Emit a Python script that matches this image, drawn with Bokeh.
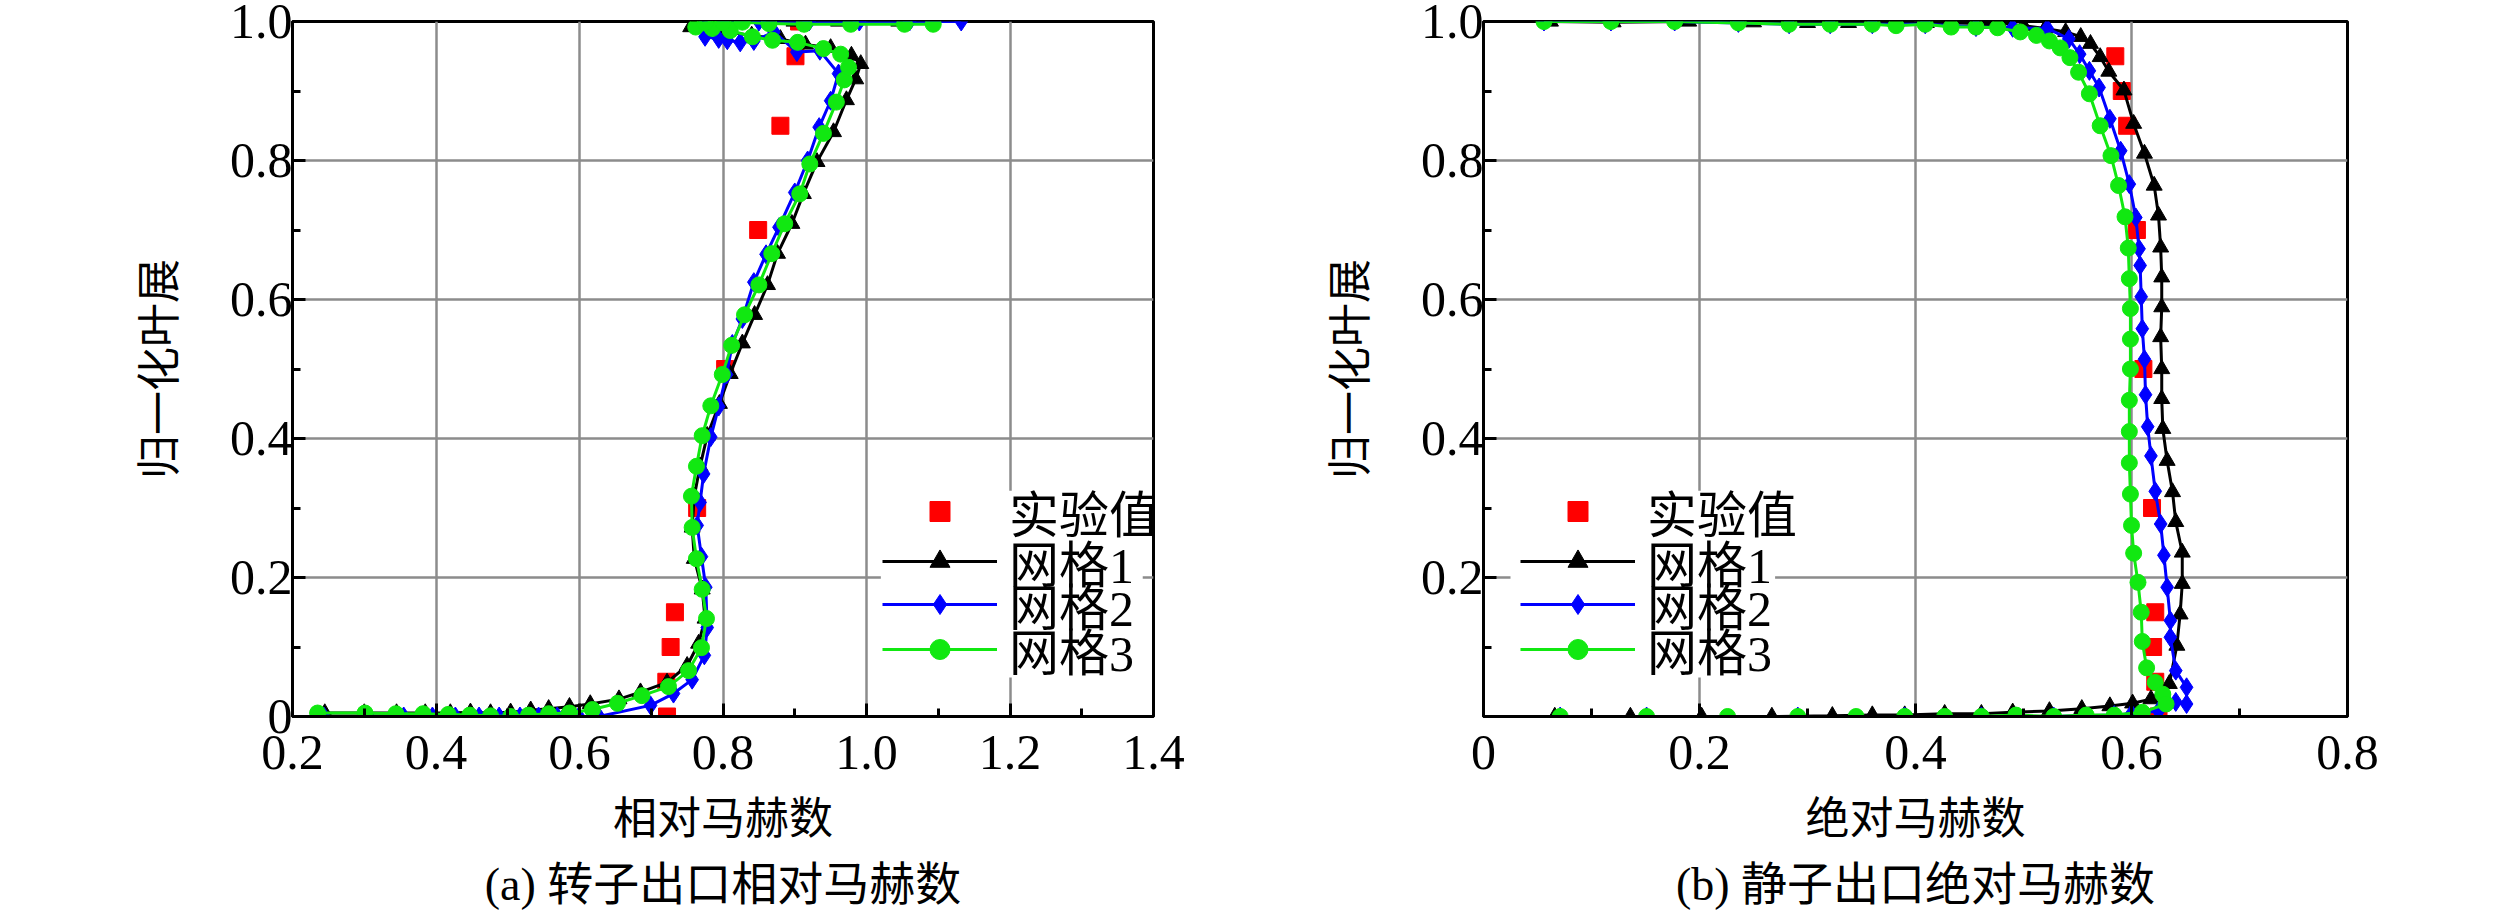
from bokeh.plotting import figure
from bokeh.models import Range1d, FixedTicker, Legend, LegendItem, Title, BoxAnnotation
from bokeh.layouts import row
from bokeh.embed import file_html
from bokeh.resources import INLINE

# ---- (a) rotor outlet relative Mach number ----
a_exp_x = [0.722, 0.721, 0.727, 0.733, 0.764, 0.803, 0.849, 0.880, 0.901, 0.906]
a_exp_y = [0.0, 0.05, 0.10, 0.15, 0.30, 0.50, 0.70, 0.85, 0.95, 1.0]

a_g1_x = [0.245, 0.300, 0.345, 0.385, 0.420, 0.448, 0.476, 0.504, 0.532, 0.557, 0.586, 0.615,
          0.655, 0.685, 0.722, 0.750, 0.766, 0.775, 0.771, 0.760, 0.757, 0.760, 0.768, 0.778,
          0.795, 0.810, 0.827, 0.844, 0.862, 0.876, 0.896, 0.912, 0.931, 0.954, 0.972, 0.985,
          0.992, 0.979, 0.950, 0.915, 0.880, 0.840, 0.800, 0.755, 0.806, 0.899, 0.961, 1.045]
a_g1_y = [0.005, 0.005, 0.005, 0.005, 0.005, 0.006, 0.005, 0.006, 0.009, 0.011, 0.014, 0.018,
          0.025, 0.035, 0.049, 0.073, 0.105, 0.141, 0.183, 0.227, 0.272, 0.317, 0.360, 0.404,
          0.450, 0.493, 0.537, 0.578, 0.621, 0.666, 0.709, 0.752, 0.798, 0.841, 0.887, 0.917,
          0.939, 0.951, 0.962, 0.967, 0.975, 0.980, 0.986, 0.992, 1.0, 1.0, 1.0, 1.0]

a_g2_x = [0.244, 0.306, 0.355, 0.395, 0.427, 0.460, 0.488, 0.517, 0.543, 0.569, 0.599, 0.627,
          0.699, 0.731, 0.757, 0.774, 0.778, 0.776, 0.770, 0.764, 0.768, 0.773, 0.783, 0.794,
          0.805, 0.813, 0.827, 0.843, 0.860, 0.878, 0.900, 0.918, 0.934, 0.950, 0.961, 0.935,
          0.903, 0.871, 0.843, 0.824, 0.806, 0.794, 0.775, 0.775, 0.800, 0.850, 0.920, 0.990,
          1.060, 1.132]
a_g2_y = [0.0, 0.0, 0.0, 0.0, 0.0, 0.0, 0.0, 0.0, 0.0, 0.0, 0.0, 0.0,
          0.016, 0.033, 0.053, 0.088, 0.128, 0.186, 0.230, 0.275, 0.308, 0.349, 0.402, 0.446,
          0.492, 0.536, 0.572, 0.625, 0.665, 0.704, 0.754, 0.800, 0.848, 0.886, 0.925, 0.958,
          0.956, 0.985, 0.972, 0.970, 0.973, 0.975, 0.978, 0.998, 0.998, 1.0, 1.0, 1.0,
          1.0, 1.0]

a_g3_x = [0.235, 0.301, 0.344, 0.382, 0.417, 0.447, 0.476, 0.504, 0.529, 0.557, 0.586, 0.618,
          0.653, 0.687, 0.724, 0.752, 0.770, 0.777, 0.771, 0.763, 0.757, 0.756, 0.763, 0.771,
          0.783, 0.799, 0.812, 0.830, 0.850, 0.868, 0.886, 0.907, 0.921, 0.940, 0.958, 0.969,
          0.975, 0.964, 0.940, 0.904, 0.869, 0.841, 0.810, 0.785, 0.762, 0.775, 0.800, 0.827,
          0.864, 0.913, 0.978, 1.053, 1.093]
a_g3_y = [0.005, 0.005, 0.004, 0.004, 0.003, 0.002, 0.001, 0.0, 0.002, 0.004, 0.005, 0.010,
          0.019, 0.030, 0.043, 0.066, 0.099, 0.141, 0.183, 0.227, 0.272, 0.317, 0.360, 0.404,
          0.447, 0.492, 0.534, 0.578, 0.621, 0.666, 0.709, 0.752, 0.795, 0.839, 0.884, 0.916,
          0.934, 0.953, 0.961, 0.970, 0.973, 0.978, 0.987, 0.990, 0.992, 0.998, 0.999, 0.999,
          0.997, 0.996, 0.996, 0.996, 0.996]

# ---- (b) stator outlet absolute Mach number ----
b_exp_x = [0.585, 0.591, 0.596, 0.605, 0.611, 0.619, 0.622, 0.620, 0.622, 0.625]
b_exp_y = [0.95, 0.90, 0.85, 0.70, 0.50, 0.30, 0.15, 0.10, 0.05, 0.0]

b_g1_x = [0.062, 0.120, 0.190, 0.250, 0.300, 0.338, 0.382, 0.410, 0.434, 0.464, 0.477, 0.500,
          0.520, 0.539, 0.553, 0.562, 0.571, 0.579, 0.593, 0.602, 0.612, 0.621, 0.625, 0.627,
          0.628, 0.628, 0.627, 0.628, 0.628, 0.629, 0.633, 0.638, 0.641, 0.647, 0.647, 0.645,
          0.642, 0.635, 0.618, 0.601, 0.580, 0.554, 0.524, 0.490, 0.461, 0.427, 0.390, 0.360,
          0.323, 0.267, 0.202, 0.136, 0.066]
b_g1_y = [1.0, 0.999, 1.0, 0.999, 0.998, 0.998, 0.999, 0.998, 0.998, 0.997, 0.998, 0.994,
          0.990, 0.985, 0.978, 0.968, 0.949, 0.928, 0.901, 0.853, 0.810, 0.764, 0.721, 0.675,
          0.632, 0.589, 0.546, 0.500, 0.457, 0.414, 0.368, 0.323, 0.280, 0.236, 0.191, 0.147,
          0.102, 0.047, 0.025, 0.019, 0.015, 0.011, 0.008, 0.006, 0.004, 0.004, 0.002, 0.002,
          0.001, 0.0, 0.0, 0.0, 0.0]

b_g2_x = [0.056, 0.118, 0.177, 0.236, 0.283, 0.321, 0.360, 0.409, 0.456, 0.490, 0.522, 0.542,
          0.552, 0.561, 0.570, 0.580, 0.590, 0.598, 0.604, 0.607, 0.608, 0.609, 0.610, 0.612,
          0.613, 0.615, 0.618, 0.622, 0.627, 0.630, 0.633, 0.636, 0.636, 0.641, 0.651, 0.651,
          0.641, 0.625, 0.600, 0.584, 0.528, 0.461, 0.390, 0.291, 0.151, 0.071]
b_g2_y = [1.0, 1.0, 1.0, 0.998, 0.996, 0.996, 0.996, 0.996, 0.992, 0.991, 0.990, 0.975,
          0.953, 0.929, 0.905, 0.860, 0.814, 0.766, 0.718, 0.673, 0.649, 0.604, 0.558, 0.514,
          0.463, 0.417, 0.375, 0.324, 0.277, 0.232, 0.186, 0.138, 0.114, 0.066, 0.042, 0.018,
          0.021, 0.008, 0.004, 0.002, 0.0, 0.0, 0.0, 0.0, 0.0, 0.0]

b_g3_x = [0.056, 0.118, 0.177, 0.236, 0.283, 0.321, 0.360, 0.382, 0.409, 0.433, 0.456, 0.476,
          0.497, 0.512, 0.524, 0.534, 0.543, 0.551, 0.561, 0.571, 0.581, 0.588, 0.594, 0.597,
          0.598, 0.599, 0.599, 0.599, 0.598, 0.598, 0.598, 0.599, 0.600, 0.602, 0.606, 0.609,
          0.610, 0.614, 0.622, 0.629, 0.632, 0.610, 0.584, 0.558, 0.528, 0.493, 0.461, 0.427,
          0.390, 0.345, 0.291, 0.226, 0.151, 0.071]
b_g3_y = [1.0, 1.0, 1.0, 0.998, 0.996, 0.996, 0.996, 0.994, 0.996, 0.992, 0.992, 0.991,
          0.985, 0.980, 0.972, 0.962, 0.948, 0.927, 0.896, 0.850, 0.807, 0.764, 0.719, 0.674,
          0.630, 0.587, 0.543, 0.500, 0.455, 0.410, 0.365, 0.320, 0.275, 0.235, 0.193, 0.150,
          0.108, 0.070, 0.049, 0.032, 0.018, 0.006, 0.002, 0.002, 0.0, 0.002, 0.0, 0.0,
          0.0, 0.0, 0.0, 0.0, 0.0, 0.0]

a_xticks = [0.2, 0.4, 0.6, 0.8, 1.0, 1.2, 1.4]
a_xlabels = ["0.2", "0.4", "0.6", "0.8", "1.0", "1.2", "1.4"]
b_xticks = [0.0, 0.2, 0.4, 0.6, 0.8]
b_xlabels = ["0", "0.2", "0.4", "0.6", "0.8"]
yticks = [0.0, 0.2, 0.4, 0.6, 0.8, 1.0]
a_ylabels = ["0", "0.2", "0.4", "0.6", "0.8", "1.0"]
b_ylabels = ["", "0.2", "0.4", "0.6", "0.8", "1.0"]
legend_labels = ["实验值", "网格1", "网格2", "网格3"]

FONT = "Liberation Serif, Noto Sans CJK SC"
GREEN = "#11e811"
LEGEND_ROWS = [163, 113, 70, 25]   # px above the frame bottom, one legend per entry


def panel(xr, xticks, xlabels, ylabels, xtitle, caption, width, bl, br, data, legend_x, legend_box):
    p = figure(width=width, height=922, x_range=Range1d(*xr), y_range=Range1d(0, 1),
               output_backend="svg", toolbar_location=None,
               min_border_left=bl, min_border_right=br, min_border_top=21, min_border_bottom=206)
    p.outline_line_color = "black"
    p.outline_line_width = 3

    step = xticks[1] - xticks[0]
    xminor = [round(t + step / 2, 3) for t in xticks[:-1]]
    p.xaxis.ticker = FixedTicker(ticks=xticks, minor_ticks=xminor)
    p.yaxis.ticker = FixedTicker(ticks=yticks, minor_ticks=[0.1, 0.3, 0.5, 0.7, 0.9])
    p.xgrid.ticker = FixedTicker(ticks=xticks)
    p.ygrid.ticker = FixedTicker(ticks=yticks)
    p.xaxis.major_label_overrides = dict(zip(xticks, xlabels))
    p.yaxis.major_label_overrides = dict(zip(yticks, ylabels))
    for ax in (p.xaxis[0], p.yaxis[0]):
        ax.axis_line_width = 3
        ax.major_tick_in = 13
        ax.major_tick_out = 0
        ax.minor_tick_in = 8
        ax.minor_tick_out = 0
        ax.major_tick_line_width = 3
        ax.minor_tick_line_width = 3
        ax.major_label_text_font = FONT
        ax.major_label_text_font_size = "50px"
        ax.major_label_text_color = "black"
        ax.axis_label_text_font = FONT
        ax.axis_label_text_font_size = "44px"
        ax.axis_label_text_font_style = "normal"
        ax.axis_label_text_color = "black"
    p.xaxis.major_label_standoff = 19
    p.yaxis.major_label_standoff = 0
    p.xaxis.axis_label = xtitle
    p.xaxis.axis_label_standoff = 23
    p.yaxis.axis_label = "归一化叶展"
    p.yaxis.axis_label_standoff = 42
    for g in (p.xgrid[0], p.ygrid[0]):
        g.grid_line_color = "#8c8c8c"
        g.grid_line_width = 2.5

    # white patch behind the legend, as in the original figure
    bx0, bx1, by0, by1 = legend_box
    p.add_layout(BoxAnnotation(left=bx0, right=bx1, bottom=by0, top=by1, fill_color="white",
                               fill_alpha=1, line_color=None, level="underlay"))

    ex, ey, x1, y1, x2, y2, x3, y3 = data
    r0 = p.scatter(ex, ey, marker="square", size=17, color="#ff0000")
    l1 = p.line(x1, y1, line_color="black", line_width=3)
    s1 = p.scatter(x1, y1, marker="triangle", size=16, color="black")
    l2 = p.line(x2, y2, line_color="#0000ff", line_width=3)
    s2 = p.scatter(x2, y2, marker="diamond", size=19, color="#0000ff")
    l3 = p.line(x3, y3, line_color=GREEN, line_width=3)
    s3 = p.scatter(x3, y3, marker="circle", size=16, color=GREEN)

    groups = [[r0], [l1, s1], [l2, s2], [l3, s3]]
    for label, rs, ypos in zip(legend_labels, groups, LEGEND_ROWS):
        lg = Legend(items=[LegendItem(label=label, renderers=rs)], location=(legend_x, ypos))
        lg.label_text_font = FONT
        lg.label_text_font_size = "50px"
        lg.label_text_color = "black"
        lg.label_text_baseline = "alphabetic"
        lg.label_height = 84
        lg.glyph_width = 115
        lg.glyph_height = 50
        lg.label_standoff = 12
        lg.padding = 0
        lg.margin = 0
        lg.border_line_color = None
        lg.background_fill_alpha = 0
        p.add_layout(lg)

    p.add_layout(Title(text=caption, align="center", text_font=FONT, text_font_size="46px",
                       text_font_style="normal", text_color="black", standoff=21), "below")
    return p


pa = panel((0.2, 1.4), a_xticks, a_xlabels, a_ylabels, "相对马赫数", "(a) 转子出口相对马赫数",
           1258, 292, 105, (a_exp_x, a_exp_y, a_g1_x, a_g1_y, a_g2_x, a_g2_y, a_g3_x, a_g3_y),
           590, (1.02, 1.385, 0.056, 0.325))
pb = panel((0.0, 0.8), b_xticks, b_xlabels, b_ylabels, "绝对马赫数", "(b) 静子出口绝对马赫数",
           1189, 225, 100, (b_exp_x, b_exp_y, b_g1_x, b_g1_y, b_g2_x, b_g2_y, b_g3_x, b_g3_y),
           37, (0.025, 0.27, 0.056, 0.325))

layout = row(pa, pb)
open("out.html", "w").write(file_html(layout, INLINE))
